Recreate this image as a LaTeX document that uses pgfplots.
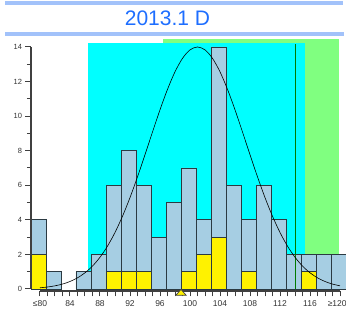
\documentclass[border=0pt]{standalone}
\usepackage{pgfplots}
\pgfplotsset{compat=1.18}
\usepackage{fontspec}
\setmainfont{Liberation Sans}
\definecolor{barblue}{HTML}{A6CEE3}
\definecolor{baredge}{HTML}{2B3A42}
\definecolor{bgcyan}{HTML}{00FFFF}
\definecolor{bggreen}{HTML}{80FF80}
\definecolor{lsgreen}{HTML}{007A00}
\definecolor{titleblue}{HTML}{1E6EFF}
\definecolor{titlebar}{HTML}{A2C2FA}
\definecolor{axisgrey}{HTML}{404040}
\definecolor{labelgrey}{HTML}{333333}
\begin{document}
\begin{tikzpicture}[x=1pt,y=1pt]
\useasboundingbox (0,0) rectangle (346,312);
\fill[titlebar] (5,307) rectangle (343,311);
\fill[titlebar] (5,276) rectangle (344,279.7);
\node[text=titleblue, font=\fontsize{21}{24}\selectfont, inner sep=0pt] at (167.5,293.3) {2013.1 D};
\begin{axis}[
  at={(31pt,21pt)}, anchor=south west,
  x=7.5pt, y=17.286pt,
  xmin=79, xmax=121, ymin=-0.116, ymax=14.5,
  axis line style={draw=none},
  clip=false,
  tick pos=left, tick align=outside,
  major tick length=5.5pt, minor tick length=4pt,
  every tick/.style={axisgrey, line width=1pt},
  xtick={80.2,81.2,82.2,83.2,84.2,85.2,86.2,87.2,88.2,89.2,90.2,91.2,92.2,93.2,94.2,95.2,96.2,97.2,98.2,99.2,100.2,101.2,102.2,103.2,104.2,105.2,106.2,107.2,108.2,109.2,110.2,111.2,112.2,113.2,114.2,115.2,116.2,117.2,118.2,119.2,120.2},
  xticklabels={≤80,,,,84,,,,88,,,,92,,,,96,,,,100,,,,104,,,,108,,,,112,,,,116,,,,\kern-5.5pt≥120},
  ytick={0,2,4,6,8,10,12,14},
  yticklabels={0,2,4,6,8,10,12,14},
  minor ytick={1,3,5,7,9,11,13},
  xticklabel style={font=\fontsize{8.5}{9}\selectfont, text=labelgrey, yshift=-1pt},
  yticklabel style={font=\fontsize{7.5}{8}\selectfont, text=labelgrey},
]
% background zones
\addplot[fill=bggreen, draw=none] coordinates {(96.6,0) (96.6,14.45) (120.07,14.45) (120.07,0)} -- cycle;
\addplot[fill=bgcyan, draw=none] coordinates {(86.6,0) (86.6,14.24) (115.53,14.24) (115.53,0)} -- cycle;
% total counts
\addplot[ybar, bar width=15pt, bar shift=0pt, fill=barblue, draw=baredge, line width=0.8pt] coordinates {
(80,4) (82,1) (86,1) (88,2) (90,6) (92,8) (94,6) (96,3) (98,5) (100,7) (102,4) (104,14) (106,6) (108,4) (110,6) (112,4) (114,2) (116,2) (118,2) (120,2)};
% yellow counts
\addplot[ybar, bar width=15pt, bar shift=0pt, fill=yellow, draw=baredge, line width=0.8pt] coordinates {
(80,2) (90,1) (92,1) (94,1) (100,1) (102,2) (104,3) (108,1) (116,1)};
% spec line
\addplot[lsgreen, line width=1.4pt] coordinates {(114.29,0) (114.29,14.16)};
% normal curve
\addplot[black, line width=0.6pt, smooth] coordinates {
(80.2,0.070) (81.2,0.114) (82.2,0.183) (83.2,0.285) (84.2,0.434) (85.2,0.645) (86.2,0.937) (87.2,1.327) (88.2,1.837) (89.2,2.479) (90.2,3.270) (91.2,4.209) (92.2,5.288) (93.2,6.488) (94.2,7.769) (95.2,9.083) (96.2,10.366) (97.2,11.551) (98.2,12.565) (99.2,13.342) (100.2,13.833) (101.2,14.0) (102.2,13.833) (103.2,13.342) (104.2,12.565) (105.2,11.551) (106.2,10.366) (107.2,9.083) (108.2,7.769) (109.2,6.488) (110.2,5.288) (111.2,4.209) (112.2,3.270) (113.2,2.479) (114.2,1.837) (115.2,1.327) (116.2,0.937) (117.2,0.645) (118.2,0.434) (119.2,0.285) (120.2,0.183)};
% axis lines
\draw[axisgrey, line width=1.2pt] (axis cs:79,0) -- (axis cs:79,14);
\draw[axisgrey, line width=1.2pt] (axis cs:80.2,-0.116) -- (axis cs:120.2,-0.116);
% mean marker
\addplot[only marks, mark=triangle*, mark size=6pt, mark options={fill=yellow, draw=axisgrey, line width=0.7pt, yscale=0.65}] coordinates {(99.0,-0.25)};
\end{axis}
\end{tikzpicture}
\end{document}
